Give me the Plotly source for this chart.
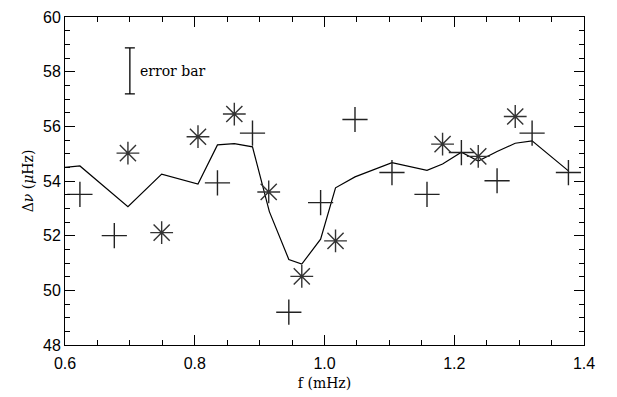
import plotly.graph_objects as go

# Model curve
line_f = [0.600, 0.623, 0.697, 0.749, 0.805, 0.835, 0.861, 0.889, 0.915, 0.945, 0.965,
          0.994, 1.017, 1.047, 1.104, 1.158, 1.182, 1.211, 1.237, 1.266, 1.294, 1.320, 1.376]
line_dnu = [54.50, 54.55, 53.06, 54.25, 53.89, 55.32, 55.37, 55.25, 52.88, 51.13, 50.96,
            51.87, 53.75, 54.15, 54.67, 54.39, 54.62, 55.05, 54.73, 55.08, 55.38, 55.47, 54.37]

# Plus-sign observations
plus_f = [0.623, 0.676, 0.835, 0.889, 0.945, 0.994, 1.047, 1.104, 1.158, 1.211, 1.266, 1.320, 1.376]
plus_dnu = [53.51, 52.00, 53.93, 55.75, 49.20, 53.21, 56.25, 54.31, 53.51, 55.04, 54.01, 55.75, 54.31]

# Asterisk observations
star_f = [0.697, 0.749, 0.805, 0.861, 0.914, 0.965, 1.017, 1.182, 1.237, 1.294]
star_dnu = [55.02, 52.11, 55.62, 56.45, 53.60, 50.51, 51.81, 55.35, 54.90, 56.36]

# Error bar legend
errbar_f = [0.700]
errbar_dnu = [58.03]
errbar_half = [0.84]
errbar_text = "error bar"
errbar_text_f = 0.712

fig = go.Figure()
fig.add_trace(go.Scatter(x=line_f, y=line_dnu, mode="lines",
                         line=dict(color="black", width=1.2), showlegend=False))
fig.add_trace(go.Scatter(x=plus_f, y=plus_dnu, mode="markers",
                         marker=dict(symbol="cross-thin-open", size=18, color="#222",
                                     line=dict(color="#222", width=1.4)),
                         showlegend=False))
fig.add_trace(go.Scatter(x=star_f, y=star_dnu, mode="markers",
                         marker=dict(symbol="asterisk-open", size=19, color="#333",
                                     line=dict(color="#333", width=1.4)),
                         showlegend=False))
fig.add_trace(go.Scatter(x=errbar_f, y=errbar_dnu, mode="markers",
                         marker=dict(size=1, color="rgba(0,0,0,0)"),
                         error_y=dict(type="data", array=errbar_half, color="black",
                                      thickness=1.3, width=5),
                         showlegend=False))
fig.add_annotation(x=errbar_text_f, y=errbar_dnu[0], text=errbar_text, showarrow=False,
                   xanchor="left", yanchor="middle",
                   font=dict(family="DejaVu Serif", size=14, color="black"))

fig.update_xaxes(range=[0.6, 1.4], tickmode="linear", dtick=0.2, tick0=0.6, tickformat=".1f",
                 showline=True, linecolor="black", linewidth=1, mirror="ticks",
                 ticks="inside", ticklen=10, tickcolor="black", tickwidth=1,
                 showgrid=False, zeroline=False, ticklabelstandoff=4,
                 minor=dict(tickmode="linear", tick0=0.6, dtick=0.05, ticks="inside",
                            ticklen=5, tickcolor="black", tickwidth=1),
                 tickfont=dict(family="Liberation Sans", size=16, color="black"),
                 title=dict(text="f (mHz)", font=dict(family="DejaVu Serif", size=14, color="black"),
                            standoff=6))
fig.update_yaxes(range=[48, 60], tickmode="linear", dtick=2, tick0=48,
                 showline=True, linecolor="black", linewidth=1, mirror="ticks",
                 ticks="inside", ticklen=10, tickcolor="black", tickwidth=1,
                 showgrid=False, zeroline=False,
                 minor=dict(tickmode="linear", tick0=48, dtick=0.5, ticks="inside",
                            ticklen=5, tickcolor="black", tickwidth=1),
                 tickfont=dict(family="Liberation Sans", size=16, color="black"),
                 title=dict(text="Δ<i>ν</i> (<i>μ</i>Hz)",
                            font=dict(family="DejaVu Serif", size=14, color="black"),
                            standoff=6))

fig.update_layout(width=617, height=397, margin=dict(l=65, r=33, t=9, b=52),
                  plot_bgcolor="white", paper_bgcolor="white")
fig.write_html("out.html")
